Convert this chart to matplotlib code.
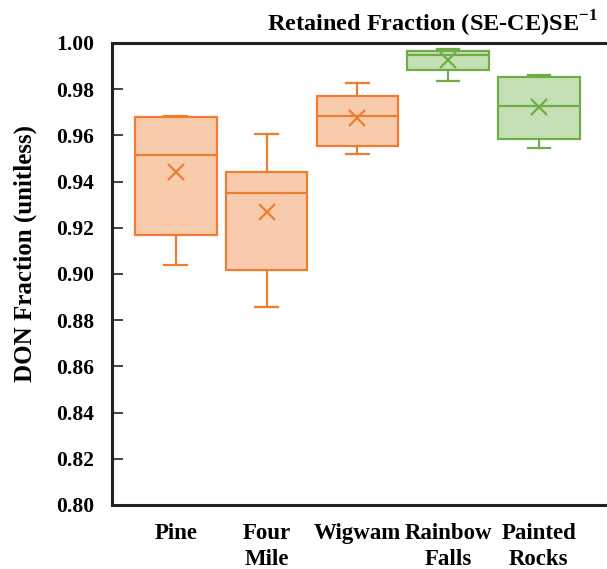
import matplotlib
matplotlib.use("Agg")
import matplotlib.pyplot as plt

sites = ["Pine", "Four\nMile", "Wigwam", "Rainbow\nFalls", "Painted\nRocks"]
whisker_low = [0.9041, 0.8859, 0.9518, 0.9837, 0.9546]
q1 = [0.9168, 0.9018, 0.9552, 0.9883, 0.9585]
median = [0.9517, 0.9351, 0.9683, 0.9948, 0.9727]
q3 = [0.9678, 0.9442, 0.9769, 0.9967, 0.9852]
whisker_high = [0.9683, 0.9607, 0.9828, 0.9974, 0.9861]
mean = [0.9442, 0.9268, 0.9675, 0.9926, 0.9721]
group = ["orange", "orange", "orange", "green", "green"]

palette = {
    "orange": ("#ED7D31", "#F8CBAD"),
    "green": ("#70AD47", "#C5E0B4"),
}

serif = ["Liberation Serif", "DejaVu Serif"]
plt.rcParams["font.family"] = serif
plt.rcParams["mathtext.fontset"] = "custom"
plt.rcParams["mathtext.bf"] = "Liberation Serif:bold"
plt.rcParams["mathtext.rm"] = "Liberation Serif"

fig = plt.figure(figsize=(6.07, 5.69), dpi=100)
ax = fig.add_axes([0.1845, 0.1125, 0.8155, 0.812])

positions = list(range(1, len(sites) + 1))
for i, pos in enumerate(positions):
    edge, fill = palette[group[i]]
    stats = [{
        "whislo": whisker_low[i], "q1": q1[i], "med": median[i],
        "q3": q3[i], "whishi": whisker_high[i], "mean": mean[i],
        "fliers": [],
    }]
    ax.bxp(stats, positions=[pos], widths=0.9, capwidths=0.25,
           patch_artist=True, showmeans=True, manage_ticks=False,
           boxprops=dict(facecolor=fill, edgecolor=edge, linewidth=1.6),
           medianprops=dict(color=edge, linewidth=1.6),
           whiskerprops=dict(color=edge, linewidth=1.6),
           capprops=dict(color=edge, linewidth=1.6),
           meanprops=dict(marker="x", markeredgecolor=edge,
                          markersize=12, markeredgewidth=1.6))

ax.set_xlim(0.297, 5.75)
ax.set_ylim(0.80, 1.00)
ax.set_yticks([0.80 + 0.02 * k for k in range(11)])
ax.set_yticklabels([f"{0.80 + 0.02 * k:.2f}" for k in range(11)],
                   fontsize=15.5, fontweight="bold")
ax.set_xticks(positions)
ax.set_xticklabels(sites, fontsize=16.5, fontweight="bold",
                   linespacing=1.3, va="top")
ax.tick_params(axis="x", length=0, pad=13)
ax.tick_params(axis="y", direction="in", length=8, width=1.2, pad=13,
               color="#222222")

for side in ("left", "top", "bottom"):
    ax.spines[side].set_linewidth(2.2)
    ax.spines[side].set_color("#222222")
ax.spines["right"].set_visible(False)

ax.set_ylabel("DON Fraction (unitless)", fontsize=18, fontweight="bold")
ax.yaxis.set_label_coords(-0.152, 0.544, transform=ax.transAxes)
fig.text(0.984, 0.944, "Retained Fraction (SE-CE)SE$^{\\mathbf{-1}}$",
         ha="right", va="baseline", fontsize=17.5, fontweight="bold")

fig.savefig("out.png", dpi=100)
